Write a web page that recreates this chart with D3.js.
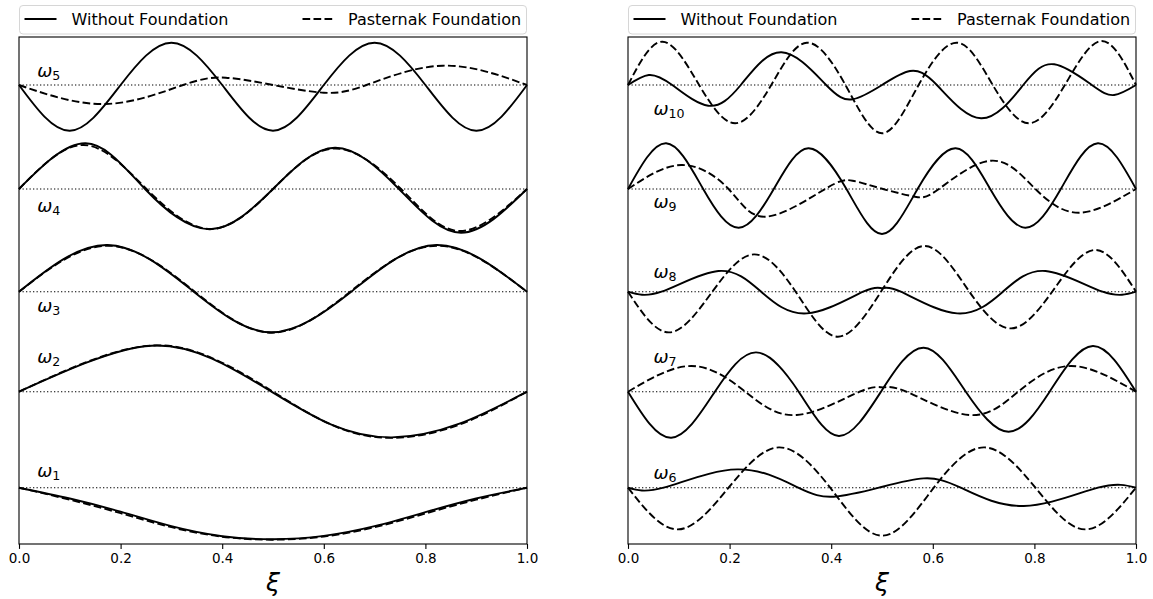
<!DOCTYPE html>
<html>
<head>
<meta charset="utf-8">
<script src="https://cdnjs.cloudflare.com/ajax/libs/d3/7.8.5/d3.min.js"></script>
<style>
body { margin: 0; background: #fff; }
text { font-family: "DejaVu Sans", sans-serif; fill: #000; }
</style>
</head>
<body>
<div id="chart"></div>
<script>
// Tick labels, legend entries and mode numbers
var xiTicks = [0, 0.2, 0.4, 0.6, 0.8, 1.0];
var legendLabels = ["Without Foundation", "Pasternak Foundation"];
var leftModes = [1, 2, 3, 4, 5];
var rightModes = [6, 7, 8, 9, 10];

// Zero line of each mode (plot units), bottom to top
var modeOffsets = [0, 0.96, 1.96, 2.987, 4.027];

// Where the omega labels sit: xi, and height above the zero line
var leftLabelXi = 0.036;
var rightLabelXi = 0.05;
var leftLabelW = [0.11, 0.283, -0.2, -0.227, 0.08];
var rightLabelW = [0.083, 0.283, 0.133, -0.193, -0.3];

// Mode shapes, [xi, w]
var w1Free = [[0,0],[0.1,-0.108],[0.2,-0.24],[0.3,-0.385],[0.4,-0.485],[0.5,-0.515],[0.6,-0.482],[0.7,-0.385],[0.8,-0.245],[0.9,-0.108],[1,0]];
var w1Past = [[0,0],[0.1,-0.12],[0.2,-0.255],[0.3,-0.395],[0.4,-0.49],[0.5,-0.52],[0.6,-0.488],[0.7,-0.395],[0.8,-0.258],[0.9,-0.12],[1,0]];
var w2Free = [[0,0],[0.13,0.285],[0.261,0.46],[0.38,0.33],[0.497,0],[0.615,-0.33],[0.734,-0.457],[0.867,-0.32],[1,0]];
var w2Past = [[0,0],[0.13,0.29],[0.263,0.462],[0.382,0.332],[0.5,0],[0.617,-0.335],[0.735,-0.462],[0.868,-0.327],[1,0]];
var w3Free = [[0,0],[0.174,0.467],[0.344,0],[0.497,-0.406],[0.654,0],[0.822,0.467],[1,0]];
var w3Past = [[0,0],[0.176,0.46],[0.346,0],[0.498,-0.41],[0.652,0],[0.822,0.46],[1,0]];
var w4Free = [[0,0],[0.131,0.457],[0.248,0],[0.376,-0.403],[0.5,0],[0.622,0.413],[0.748,0],[0.87,-0.437],[1,0]];
var w4Past = [[0,0],[0.127,0.44],[0.251,0],[0.378,-0.40],[0.5,0],[0.622,0.405],[0.752,0],[0.868,-0.42],[1,0]];
var w5Free = [[0,0],[0.1,-0.457],[0.2,0],[0.3,0.423],[0.4,0],[0.5,-0.457],[0.6,0],[0.7,0.423],[0.8,0],[0.9,-0.457],[1,0]];
var w5Past = [[0,0],[0.171,-0.19],[0.323,0],[0.407,0.073],[0.5,0],[0.6,-0.077],[0.684,0],[0.834,0.193],[1,0]];

var w6Free = [[0,0],[0.07,0],[0.215,0.183],[0.335,0],[0.405,-0.09],[0.494,0],[0.582,0.093],[0.655,0],[0.779,-0.183],[0.925,0],[1,0]];
var w6Past = [[0,0],[0.098,-0.417],[0.198,0],[0.297,0.403],[0.398,0],[0.5,-0.48],[0.602,0],[0.702,0.403],[0.802,0],[0.9,-0.417],[1,0]];
var w7Free = [[0,0],[0.085,-0.46],[0.171,0],[0.252,0.393],[0.336,0],[0.415,-0.443],[0.498,0],[0.582,0.44],[0.665,0],[0.749,-0.40],[0.83,0],[0.915,0.457],[1,0]];
var w7Past = [[0,0],[0.125,0.257],[0.231,0],[0.332,-0.233],[0.456,0],[0.502,0.043],[0.548,0],[0.672,-0.233],[0.768,0],[0.872,0.257],[1,0]];
var w8Free = [[0,0],[0.066,0],[0.178,0.207],[0.262,0],[0.352,-0.217],[0.463,0],[0.5,0.035],[0.537,0],[0.648,-0.217],[0.738,0],[0.822,0.207],[0.934,0],[1,0]];
var w8Past = [[0,0],[0.081,-0.407],[0.166,0],[0.248,0.373],[0.33,0],[0.412,-0.45],[0.498,0],[0.585,0.457],[0.672,0],[0.754,-0.367],[0.835,0],[0.919,0.417],[1,0]];
var w9Free = [[0,0],[0.075,0.457],[0.148,0],[0.218,-0.387],[0.287,0],[0.355,0.407],[0.43,0],[0.5,-0.45],[0.57,0],[0.645,0.407],[0.713,0],[0.782,-0.387],[0.852,0],[0.925,0.457],[1,0]];
var w9Past = [[0,0],[0.105,0.24],[0.198,0],[0.272,-0.277],[0.388,0],[0.442,0.083],[0.502,0],[0.565,-0.077],[0.612,0],[0.715,0.283],[0.802,0],[0.889,-0.237],[1,0]];
var w10Free = [[0,0],[0.041,0.10],[0.087,0],[0.158,-0.207],[0.222,0],[0.302,0.327],[0.39,0],[0.442,-0.143],[0.5,0],[0.555,0.14],[0.608,0],[0.695,-0.333],[0.778,0],[0.839,0.207],[0.913,0],[0.957,-0.10],[1,0]];
var w10Past = [[0,0],[0.068,0.433],[0.14,0],[0.211,-0.383],[0.282,0],[0.352,0.423],[0.428,0],[0.5,-0.483],[0.572,0],[0.648,0.423],[0.718,0],[0.789,-0.383],[0.86,0],[0.932,0.44],[1,0]];

var leftFree = [w1Free, w2Free, w3Free, w4Free, w5Free];
var leftPast = [w1Past, w2Past, w3Past, w4Past, w5Past];
var rightFree = [w6Free, w7Free, w8Free, w9Free, w10Free];
var rightPast = [w6Past, w7Past, w8Past, w9Past, w10Past];

// Set SVG dimensions
var svgWidth = 1153;
var svgHeight = 599;

// Panel placement
var panelTop = 37;
var chartWidth = 508;
var chartHeight = 507;

var svg = d3.select("#chart")
    .append("svg")
    .attr("width", svgWidth)
    .attr("height", svgHeight);

// Shared scales
var xScale = d3.scaleLinear()
    .domain([0, 1])
    .range([0, chartWidth]);

var yScale = d3.scaleLinear()
    .domain([-0.563, 4.507])
    .range([chartHeight, 0]);

function drawPanel(left, modes, freeSet, pastSet, labelXi, labelW) {
    var g = svg.append("g")
        .attr("transform", `translate(${left},${panelTop})`);

    // Legend above the panel
    var leg = svg.append("g")
        .attr("transform", `translate(${left},5)`);
    leg.append("rect")
        .attr("x", 0.5)
        .attr("y", 0.5)
        .attr("width", chartWidth - 1)
        .attr("height", 28.5)
        .attr("rx", 3.5)
        .attr("fill", "#fff")
        .attr("stroke", "#d6d6d6")
        .attr("stroke-width", 1);
    var entries = [{x: 5.5, text: 52.5, dash: null}, {x: 283.5, text: 329, dash: "7.7,3.3"}];
    entries.forEach(function(e, i) {
        leg.append("line")
            .attr("x1", e.x).attr("x2", e.x + 32)
            .attr("y1", 14).attr("y2", 14)
            .attr("stroke", "#000")
            .attr("stroke-width", 2)
            .attr("stroke-dasharray", e.dash);
        leg.append("text")
            .attr("x", e.text)
            .attr("y", 19.8)
            .style("font-size", "16px")
            .text(legendLabels[i]);
    });

    var line = d3.line()
        .x(d => xScale(d[0]))
        .y(d => yScale(d[1]))
        .curve(d3.curveNatural);

    modes.forEach(function(m, i) {
        var off = modeOffsets[i];

        // dotted zero line
        g.append("line")
            .attr("x1", 0).attr("x2", chartWidth)
            .attr("y1", yScale(off)).attr("y2", yScale(off))
            .attr("stroke", "#000")
            .attr("stroke-width", 1.1)
            .attr("stroke-dasharray", "1.3,2.2");

        g.append("path")
            .datum(freeSet[i].map(d => [d[0], d[1] + off]))
            .attr("d", line)
            .attr("fill", "none")
            .attr("stroke", "#000")
            .attr("stroke-width", 1.9);

        g.append("path")
            .datum(pastSet[i].map(d => [d[0], d[1] + off]))
            .attr("d", line)
            .attr("fill", "none")
            .attr("stroke", "#000")
            .attr("stroke-width", 1.9)
            .attr("stroke-dasharray", "7.7,3.3");

        var lab = g.append("text")
            .attr("x", xScale(labelXi))
            .attr("y", yScale(off + labelW[i]))
            .style("font-size", "18px");
        lab.append("tspan")
            .style("font-style", "italic")
            .text("ω");
        lab.append("tspan")
            .attr("dy", 3)
            .style("font-size", "12.6px")
            .text(m);
    });

    // Frame
    g.append("rect")
        .attr("width", chartWidth)
        .attr("height", chartHeight)
        .attr("fill", "none")
        .attr("stroke", "#000")
        .attr("stroke-width", 1.1);

    // x axis
    var xAxis = d3.axisBottom(xScale)
        .tickValues(xiTicks)
        .tickFormat(d3.format(".1f"))
        .tickSize(4.9)
        .tickPadding(4.5)
        .tickSizeOuter(0);
    var ax = g.append("g")
        .attr("transform", `translate(0,${chartHeight})`)
        .call(xAxis);
    ax.select(".domain").remove();
    ax.selectAll("line").attr("stroke", "#000").attr("stroke-width", 1.1);
    ax.selectAll("text")
        .style("font-family", "DejaVu Sans")
        .style("font-size", "13.5px")
        .attr("fill", "#000");

    // Axis title
    g.append("text")
        .attr("x", chartWidth / 2)
        .attr("y", chartHeight + 47)
        .attr("text-anchor", "middle")
        .style("font-size", "25px")
        .style("font-style", "italic")
        .text("ξ");
}

drawPanel(19, leftModes, leftFree, leftPast, leftLabelXi, leftLabelW);
drawPanel(628, rightModes, rightFree, rightPast, rightLabelXi, rightLabelW);
</script>
</body>
</html>
